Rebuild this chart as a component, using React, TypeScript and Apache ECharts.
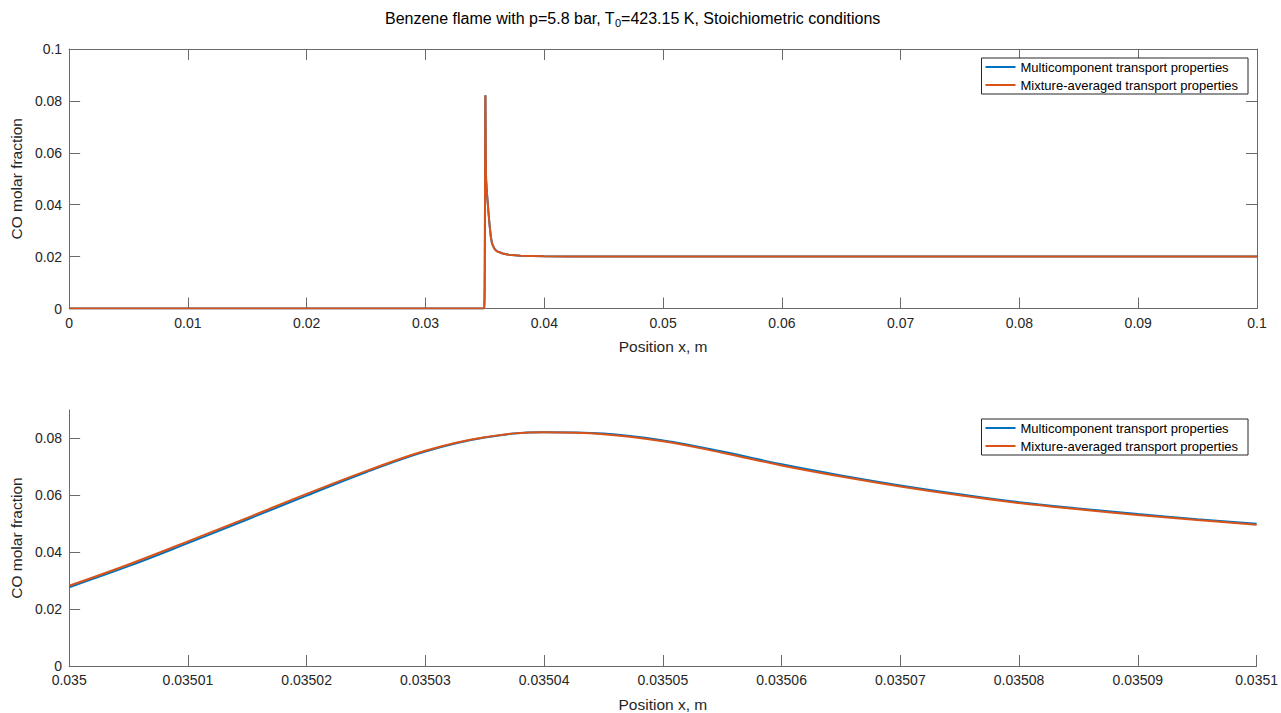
import React, { useEffect, useRef } from "react";
import * as echarts from "echarts";

// Legend entries and line colours
const SERIES_NAMES = [
  "Multicomponent transport properties",
  "Mixture-averaged transport properties",
];
const SERIES_COLORS = ["#0072BD", "#D95319"];

// Unburnt region up to the flame front (m, CO molar fraction)
const approachX = [0, 0.01, 0.02, 0.03, 0.0348, 0.0349, 0.03493, 0.03495, 0.03497, 0.03498, 0.03499];
const approachMulti = [0, 0, 0, 0, 0, 0.00004, 0.0002, 0.0007, 0.0037, 0.0085, 0.0162];
const approachMix = [0, 0, 0, 0, 0, 0.00005, 0.0003, 0.0008, 0.004, 0.009, 0.017];

// Flame zone (shown magnified in the lower panel)
const flameX = [
  0.035, 0.035005, 0.03501, 0.035015, 0.03502, 0.035025, 0.03503, 0.035035, 0.03504, 0.035045,
  0.03505, 0.035055, 0.03506, 0.035065, 0.03507, 0.035075, 0.03508, 0.035085, 0.03509, 0.035095, 0.0351,
];
const flameMulti = [
  0.0277, 0.0351, 0.0432, 0.0515, 0.0599, 0.0681, 0.0754, 0.0803, 0.0822, 0.0817,
  0.0793, 0.0754, 0.0709, 0.067, 0.0635, 0.0604, 0.0576, 0.0554, 0.0534, 0.0516, 0.05,
];
const flameMix = [
  0.0282, 0.0357, 0.0438, 0.0521, 0.0605, 0.0685, 0.0757, 0.0804, 0.0822, 0.0815,
  0.079, 0.075, 0.0705, 0.0666, 0.0631, 0.06, 0.0573, 0.0551, 0.0531, 0.0513, 0.0497,
];

// Post-flame relaxation to equilibrium
const tailX = [0.03515, 0.0352, 0.0353, 0.0354, 0.0355, 0.0356, 0.0358, 0.036, 0.0365, 0.037, 0.0375, 0.038, 0.039, 0.04, 0.042, 0.05, 0.1];
const tailMulti = [0.0462, 0.043, 0.0372, 0.0319, 0.0277, 0.0251, 0.0231, 0.0221, 0.0212, 0.0207, 0.0205, 0.0203, 0.0202, 0.0201, 0.02005, 0.02, 0.02];
const tailMix = [0.046, 0.0428, 0.037, 0.0318, 0.0276, 0.025, 0.023, 0.022, 0.0212, 0.0207, 0.0205, 0.0203, 0.0202, 0.0201, 0.02005, 0.02, 0.02];

// Tick values for the magnified panel
const zoomXTicks = [0.035, 0.03501, 0.03502, 0.03503, 0.03504, 0.03505, 0.03506, 0.03507, 0.03508, 0.03509, 0.0351];
const zoomYTicks = [0, 0.02, 0.04, 0.06, 0.08];

const TITLE = "Benzene flame with p=5.8 bar, T{sub|0}=423.15 K, Stoichiometric conditions";
const X_NAME = "Position x, m";
const Y_NAME = "CO molar fraction";

const pairs = (xs: number[], ys: number[]) => xs.map((x, i) => [x, ys[i]]);
const fmt = (v: number) => String(+Number(v).toFixed(6));

const FONT = "Liberation Sans, Arial, Helvetica, sans-serif";
const AXIS_LINE = "#6a6a6a";
const TEXT = "#262626";

export default function App() {
  const ref = useRef<HTMLDivElement>(null);

  useEffect(() => {
    if (!ref.current) return;
    const chart = echarts.init(ref.current, null, { renderer: "svg" });

    const tick = { show: true, inside: true, length: 11, lineStyle: { color: AXIS_LINE, width: 1 } };
    const line = { show: true, onZero: false, lineStyle: { color: AXIS_LINE, width: 1 } };
    const label = { fontSize: 14, color: TEXT, fontFamily: FONT, formatter: fmt };
    const nameStyle = { fontSize: 15.5, color: TEXT, fontFamily: FONT };

    const legend = (top: number) => ({
      orient: "vertical",
      right: 33,
      top,
      data: SERIES_NAMES,
      icon: "rect",
      itemWidth: 30,
      itemHeight: 2,
      itemGap: 2,
      padding: [1, 10, 1, 4],
      backgroundColor: "#ffffff",
      borderColor: "#262626",
      borderWidth: 1,
      borderRadius: 0,
      selectedMode: false,
      textStyle: { fontSize: 13, color: "#000", fontFamily: FONT, lineHeight: 16 },
    });

    const fullMulti = [
      ...pairs(approachX, approachMulti),
      ...pairs(flameX, flameMulti),
      ...pairs(tailX, tailMulti),
    ];
    const fullMix = [
      ...pairs(approachX, approachMix),
      ...pairs(flameX, flameMix),
      ...pairs(tailX, tailMix),
    ];

    chart.setOption({
      animation: false,
      backgroundColor: "#ffffff",
      title: {
        text: TITLE,
        left: 380,
        top: 3,
        textStyle: {
          fontSize: 16,
          fontWeight: "normal",
          color: "#000",
          fontFamily: FONT,
          lineHeight: 20,
          rich: {
            sub: { fontSize: 11, fontFamily: FONT, color: "#000", lineHeight: 8, verticalAlign: "bottom" },
          },
        },
      },
      legend: [legend(58), legend(419)],
      grid: [
        { left: 67, right: 24, top: 49, height: 259.5, containLabel: false },
        { left: 67, right: 24, top: 410, height: 258, containLabel: false },
      ],
      xAxis: [
        {
          type: "value",
          gridIndex: 0,
          position: "bottom",
          min: 0,
          max: 0.1,
          interval: 0.01,
          name: X_NAME,
          nameLocation: "middle",
          nameGap: 30,
          nameTextStyle: nameStyle,
          axisLine: line,
          axisTick: tick,
          axisLabel: { ...label, margin: 7, showMinLabel: true, showMaxLabel: true },
          splitLine: { show: false },
        },
        {
          type: "value",
          gridIndex: 0,
          position: "top",
          min: 0,
          max: 0.1,
          interval: 0.01,
          axisLine: line,
          axisTick: tick,
          axisLabel: { show: false },
          splitLine: { show: false },
        },
        {
          type: "value",
          gridIndex: 1,
          position: "bottom",
          min: 0.035,
          max: 0.0351,
          name: X_NAME,
          nameLocation: "middle",
          nameGap: 30,
          nameTextStyle: nameStyle,
          axisLine: line,
          axisTick: { ...tick, customValues: zoomXTicks },
          axisLabel: { ...label, margin: 7, customValues: zoomXTicks },
          splitLine: { show: false },
        },
      ],
      yAxis: [
        {
          type: "value",
          gridIndex: 0,
          position: "left",
          min: 0,
          max: 0.1,
          interval: 0.02,
          name: Y_NAME,
          nameLocation: "middle",
          nameGap: 40,
          nameTextStyle: nameStyle,
          axisLine: line,
          axisTick: tick,
          axisLabel: { ...label, margin: 7, showMaxLabel: true },
          splitLine: { show: false },
        },
        {
          type: "value",
          gridIndex: 0,
          position: "right",
          min: 0,
          max: 0.1,
          interval: 0.02,
          axisLine: line,
          axisTick: tick,
          axisLabel: { show: false },
          splitLine: { show: false },
        },
        {
          type: "value",
          gridIndex: 1,
          position: "left",
          min: 0,
          max: 0.09,
          name: Y_NAME,
          nameLocation: "middle",
          nameGap: 40,
          nameTextStyle: nameStyle,
          axisLine: line,
          axisTick: { ...tick, customValues: zoomYTicks },
          axisLabel: { ...label, margin: 7, customValues: zoomYTicks },
          splitLine: { show: false },
        },
      ],
      series: [
        {
          name: SERIES_NAMES[0],
          type: "line",
          xAxisIndex: 0,
          yAxisIndex: 0,
          data: fullMulti,
          symbol: "none",
          lineStyle: { color: SERIES_COLORS[0], width: 2 },
          itemStyle: { color: SERIES_COLORS[0] },
        },
        {
          name: SERIES_NAMES[1],
          type: "line",
          xAxisIndex: 0,
          yAxisIndex: 0,
          data: fullMix,
          symbol: "none",
          lineStyle: { color: SERIES_COLORS[1], width: 2 },
          itemStyle: { color: SERIES_COLORS[1] },
        },
        {
          name: SERIES_NAMES[0],
          type: "line",
          xAxisIndex: 2,
          yAxisIndex: 2,
          data: pairs(flameX, flameMulti),
          symbol: "none",
          smooth: 0.4,
          lineStyle: { color: SERIES_COLORS[0], width: 2 },
          itemStyle: { color: SERIES_COLORS[0] },
        },
        {
          name: SERIES_NAMES[1],
          type: "line",
          xAxisIndex: 2,
          yAxisIndex: 2,
          data: pairs(flameX, flameMix),
          symbol: "none",
          smooth: 0.4,
          lineStyle: { color: SERIES_COLORS[1], width: 2 },
          itemStyle: { color: SERIES_COLORS[1] },
        },
      ],
    });

    return () => chart.dispose();
  }, []);

  return (
    <div
      ref={ref}
      style={{ position: "absolute", left: 0, top: 0, width: 1281, height: 713, background: "#fff" }}
    />
  );
}
